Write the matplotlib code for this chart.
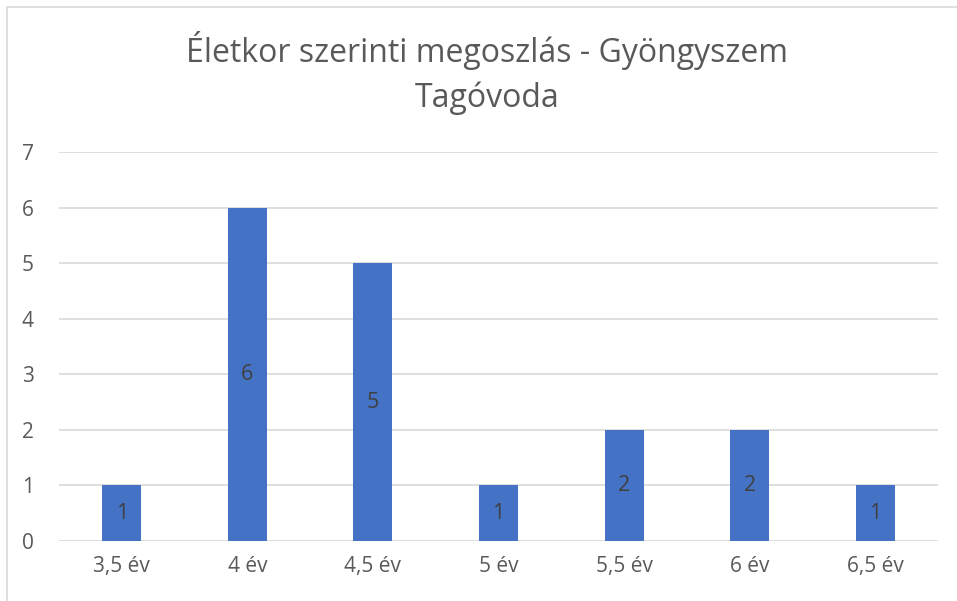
import matplotlib.pyplot as plt
from matplotlib.patches import Rectangle

# data
categories = ['3,5 év', '4 év', '4,5 év', '5 év', '5,5 év', '6 év', '6,5 év']
counts = [1, 6, 5, 1, 2, 2, 1]
title = 'Életkor szerinti megoszlás - Gyöngyszem\nTagóvoda'

plt.rcParams['font.family'] = ['Open Sans', 'DejaVu Sans']

fig = plt.figure(figsize=(9.57, 6.01), dpi=100)
# plot area in pixels: x 59..938, y 152..541
ax = fig.add_axes([59/957, 1-541/601, (938-59)/957, (541-152)/601])

x = list(range(len(categories)))
bars = ax.bar(x, counts, width=0.31, color='#4472C4', zorder=3)
for b, v in zip(bars, counts):
  ax.text(b.get_x()+b.get_width()/2, v/2, str(v), ha='center', va='center',
          fontsize=15.5, color='#404040', zorder=4)

ax.set_xlim(-0.5, len(categories)-0.5)
ax.set_ylim(0, 7)
ax.set_yticks(range(0, 8))
ax.set_xticks(x)
ax.set_xticklabels(categories)
ax.tick_params(axis='both', length=0, labelsize=15, labelcolor='#595959')
ax.tick_params(axis='x', pad=11)
ax.tick_params(axis='y', pad=18)
ax.grid(axis='y', color='#D9D9D9', linewidth=1.2, zorder=0)
for s in ax.spines.values():
  s.set_visible(False)

fig.text(487/957, 1-73/601, title, ha='center', va='center', fontsize=23,
         color='#595959', linespacing=1.45)

# chart border (right/bottom edges cut off in the original)
fig.patches.append(Rectangle((7/957, -0.05), 1.1, 1-7/601+0.05, transform=fig.transFigure,
                             fill=False, edgecolor='#D9D9D9', linewidth=1.2))

plt.savefig('out.png', dpi=100)
